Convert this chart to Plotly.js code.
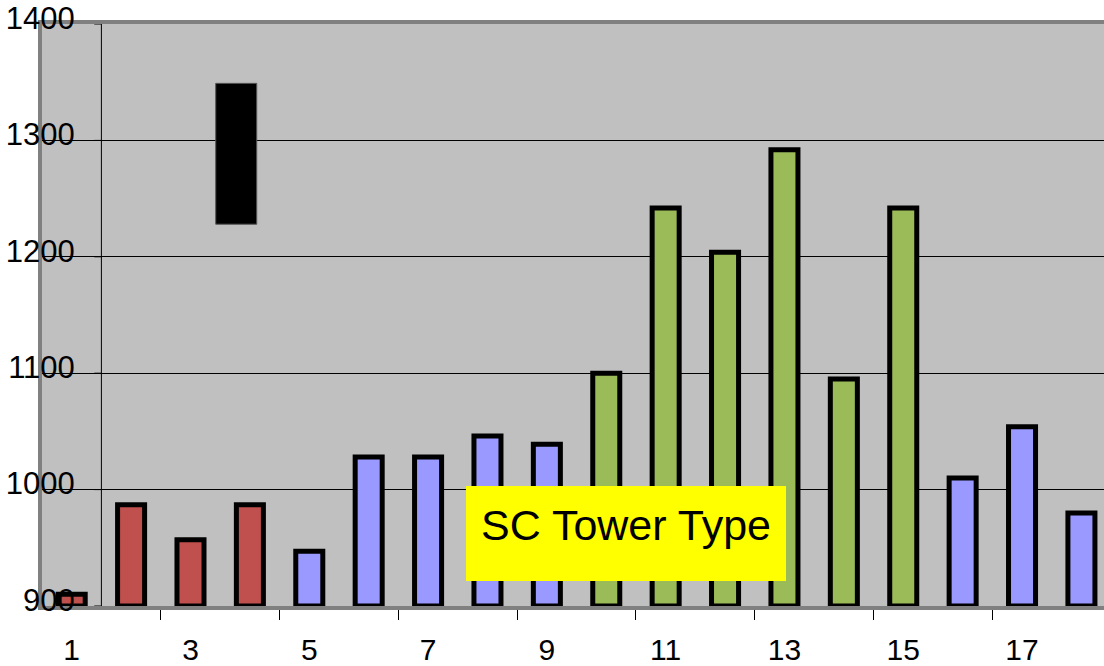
<!DOCTYPE html>
<html>
<head>
<meta charset="utf-8">
<script src="https://cdn.plot.ly/plotly-3.0.1.min.js"></script>
<style>
  html, body { margin: 0; padding: 0; background: #ffffff; }
  #chart { width: 1104px; height: 666px; }
</style>
</head>
<body>
<div id="chart"></div>
<script>
// Tower positions along the line, and their heights
const towerNumbers = [1, 2, 3, 4, 5, 6, 7, 8, 9, 10, 11, 12, 13, 14, 15, 16, 17, 18];
const towerHeights = [910, 987, 957, 987, 947, 1028, 1028, 1046, 1039, 1100, 1242, 1204, 1292, 1095, 1242, 1010, 1054, 980];
const towerGroups  = ['A', 'A', 'A', 'A', 'B', 'B', 'B', 'B', 'B', 'C', 'C', 'C', 'C', 'C', 'C', 'B', 'B', 'B'];

// Black block drawn near tower 4
const blockX    = [3.77];
const blockLow  = [1228];
const blockHigh = [1349];

// Axis ticks
const yTickValues  = [900, 1000, 1100, 1200, 1300, 1400];
const xLabelValues = [1, 3, 5, 7, 9, 11, 13, 15, 17];
const xMarkValues  = [2.5, 4.5, 6.5, 8.5, 10.5, 12.5, 14.5, 16.5];

const boxLabel = 'SC Tower Type';

const groupColors = { A: '#C0504D', B: '#9999FF', C: '#9BBB59' };
const FONT = 'Liberation Sans, Arial, sans-serif';

const towers = {
  type: 'bar',
  x: towerNumbers,
  y: towerHeights.map(v => v - 900),
  base: towerNumbers.map(() => 900),
  width: 0.455,
  marker: {
    color: towerGroups.map(g => groupColors[g]),
    line: { color: '#000000', width: 5 }
  },
  hoverinfo: 'x+text',
  text: towerHeights.map(String),
  textposition: 'none',
  showlegend: false
};

const block = {
  type: 'bar',
  x: blockX,
  y: blockHigh.map((h, i) => h - blockLow[i]),
  base: blockLow,
  width: 0.69,
  marker: { color: '#000000', line: { color: '#555555', width: 1 } },
  hoverinfo: 'skip',
  showlegend: false
};

// Axis drawn at the boundary between towers 1 and 2, with short ticks
const shapes = [{
  type: 'line', xref: 'x', yref: 'y',
  x0: 1.5, x1: 1.5, y0: 900, y1: 1400,
  line: { color: '#000000', width: 1 }
}];
yTickValues.forEach(v => {
  shapes.push({
    type: 'line', xref: 'x', yref: 'y',
    x0: 1.38, x1: 1.5, y0: v, y1: v,
    line: { color: '#000000', width: 1 }
  });
});

const layout = {
  width: 1104,
  height: 666,
  margin: { l: 42, r: 0, t: 24, b: 60, pad: 0 },
  paper_bgcolor: '#ffffff',
  plot_bgcolor: '#C0C0C0',
  barmode: 'overlay',
  showlegend: false,
  font: { family: FONT, color: '#000000' },
  xaxis: {
    type: 'linear',
    range: [0.5, 18.38],
    tickmode: 'array',
    tickvals: xLabelValues,
    ticktext: xLabelValues.map(String),
    ticks: 'outside',
    ticklen: 0,
    tickcolor: 'rgba(0,0,0,0)',
    minor: {
      tickmode: 'array',
      tickvals: xMarkValues,
      ticks: 'outside',
      ticklen: 10,
      tickwidth: 1,
      tickcolor: '#000000',
      showgrid: false
    },
    tickfont: { family: FONT, size: 30, color: '#000000' },
    ticklabelstandoff: 14,
    showgrid: false,
    zeroline: false,
    showline: true,
    linecolor: '#808080',
    linewidth: 4,
    mirror: true,
    fixedrange: true
  },
  yaxis: {
    range: [900, 1400],
    tickmode: 'array',
    tickvals: yTickValues,
    ticktext: yTickValues.map(String),
    ticks: '',
    tickfont: { family: FONT, size: 31, color: '#000000' },
    ticklabelstandoff: -43,
    ticklabelshift: -6,
    showgrid: true,
    gridcolor: '#000000',
    gridwidth: 1,
    zeroline: false,
    showline: true,
    linecolor: '#808080',
    linewidth: 4,
    fixedrange: true
  },
  shapes: shapes,
  annotations: [
    {
      // yellow label panel
      text: ' ',
      xref: 'paper', yref: 'paper',
      x: 0.5499, y: 0.1246,
      xanchor: 'center', yanchor: 'middle',
      showarrow: false,
      width: 320,
      height: 95,
      bgcolor: '#FFFF00',
      borderpad: 0,
      borderwidth: 0,
      font: { family: FONT, size: 10, color: '#000000' }
    },
    {
      text: boxLabel,
      xref: 'paper', yref: 'paper',
      x: 0.5499, y: 0.1246,
      xanchor: 'center', yanchor: 'middle',
      yshift: 8,
      showarrow: false,
      font: { family: FONT, size: 43, color: '#000000' }
    }
  ]
};

Plotly.newPlot('chart', [towers, block], layout, { displayModeBar: false, staticPlot: true });
</script>
</body>
</html>
